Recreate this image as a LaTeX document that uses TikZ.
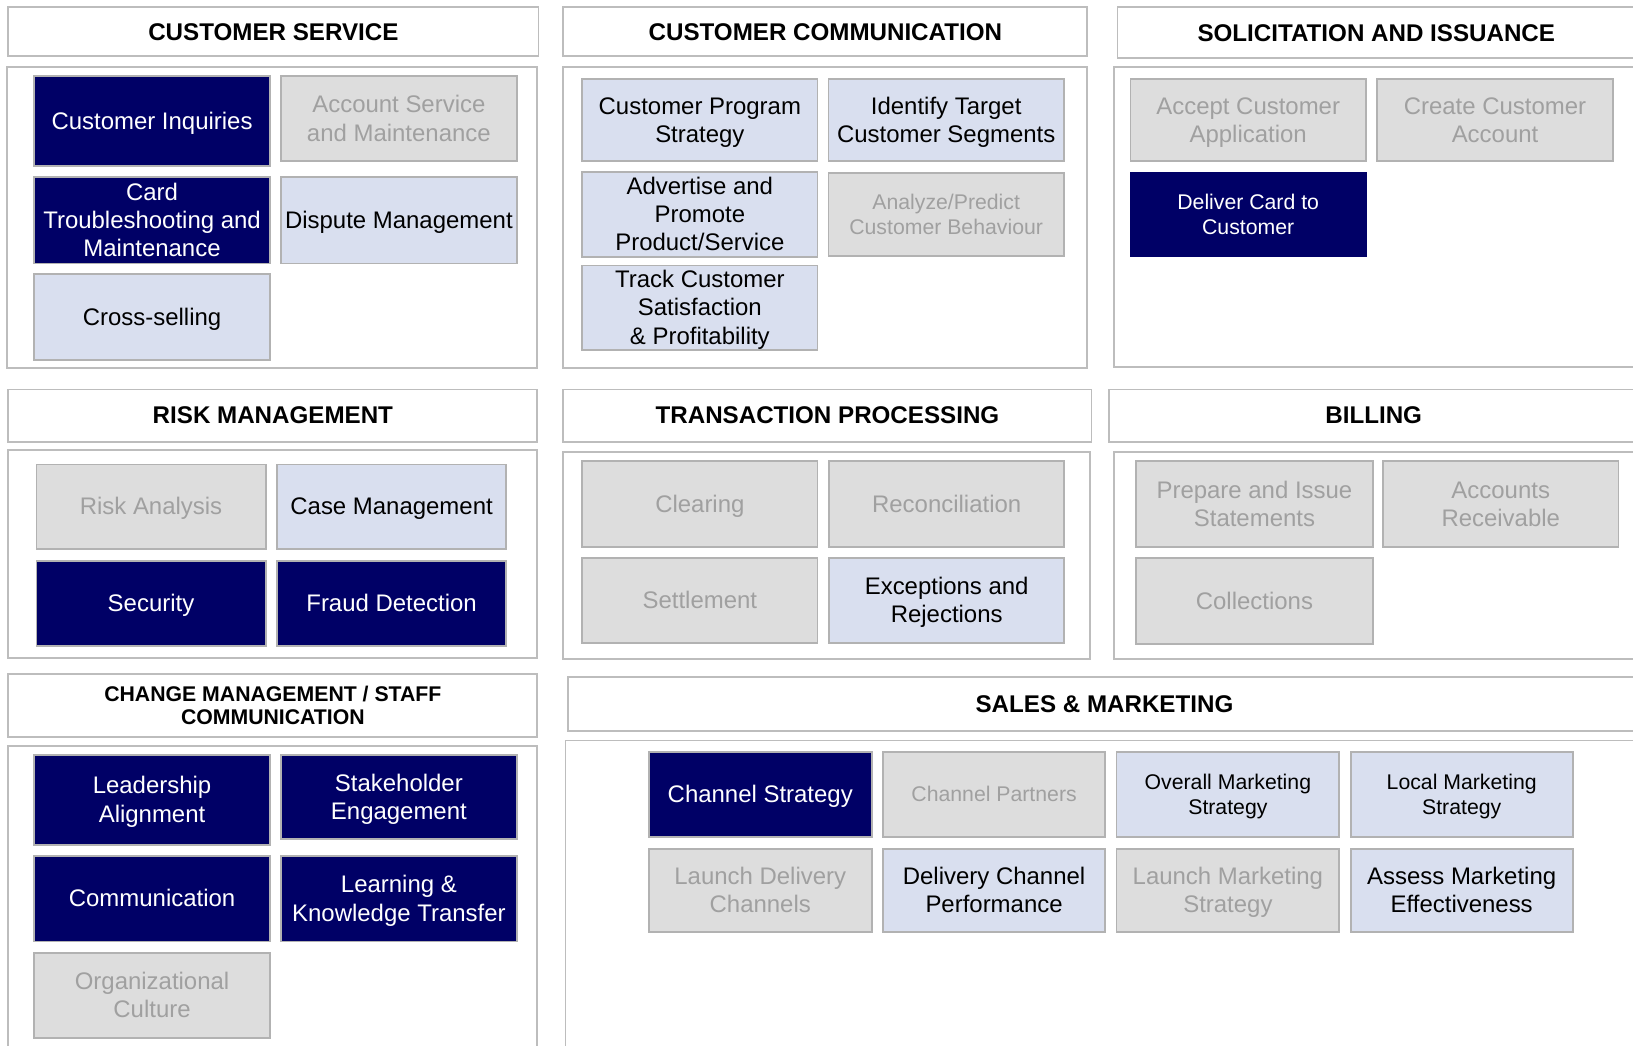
\documentclass[tikz,border=0pt]{standalone}
\usepackage{fontspec}
\usepackage{array}
\setmainfont{Liberation Sans}
\definecolor{navy}{HTML}{000066}
\definecolor{paleblue}{HTML}{D9DFEF}
\definecolor{offgray}{HTML}{DDDDDD}
\definecolor{offtext}{HTML}{A0A0A0}
\definecolor{cellgray}{HTML}{B2B2B2}
\definecolor{framegray}{HTML}{BDBDBD}
% every text line gets the same strut, so line pitch and centring stay even
\newcommand{\topstrut}{\rule{0pt}{0.93em}}
\newcommand{\botstrut}{\rule[-0.245em]{0pt}{0.245em}}
\newcolumntype{C}{@{}>{\topstrut}c<{\botstrut}@{}}
\newcommand{\lines}[1]{{\renewcommand{\arraystretch}{0}\begin{tabular}{C}#1\end{tabular}}}
\tikzset{
  frame/.style={draw=framegray, line width=1.8pt, fill=white},
  heading/.style={frame, inner sep=0pt,
    font=\bfseries\fontsize{23.2}{27}\selectfont},
  cell/.style={draw=cellgray, line width=1.8pt, inner sep=0pt,
    minimum width=226pt, minimum height=82pt},
  dark/.style={cell, fill=navy, text=white},
  light/.style={cell, fill=paleblue, text=black},
  off/.style={cell, fill=offgray, text=offtext},
  small/.style={font=\fontsize{20.4}{24.5}\selectfont},
}

\begin{document}
\begin{tikzpicture}[x=1pt, y=-1pt, font=\fontsize{23}{27}\selectfont]
    \clip (0,0) rectangle (1568,1004);
    \fill[white] (0,0) rectangle (1568,1004);
    % Customer service
    \node[heading, minimum width=509pt, minimum height=47pt] (cst) at (262.5,30.5) {\lines{CUSTOMER SERVICE}};
    \draw[frame] (7,64) rectangle (516,353);
    \node[dark, minimum height=86pt] (ci) at (146,116)   {\lines{Customer Inquiries}};
    \node[off]                       (as) at (383,114)   {\lines{Account Service\\and Maintenance}};
    \node[dark, minimum height=83pt] (ct) at (146,211.5) {\lines{Card\\Troubleshooting and\\Maintenance}};
    \node[light, minimum height=83pt](dm) at (383,211.5) {\lines{Dispute Management}};
    \node[light, minimum height=83pt](xs) at (146,304.5) {\lines{Cross-selling}};
    % Customer communication
    \node[heading, minimum width=503pt, minimum height=47pt] (cct) at (792.5,30.5) {\lines{CUSTOMER COMMUNICATION}};
    \draw[frame] (541,64) rectangle (1044,353);
    \node[light, minimum height=79pt] (cps) at (672,115.5)   {\lines{Customer Program\\Strategy}};
    \node[light, minimum height=79pt] (its) at (908.5,115.5) {\lines{Identify Target\\Customer Segments}};
    \node[light, minimum height=80pt] (adv) at (672,206)     {\lines{Advertise and\\Promote\\Product/Service}};
    \node[off, small, minimum height=80pt] (apb) at (908.5,206) {\lines{Analyze/Predict\\Customer Behaviour}};
    \node[light, minimum height=79pt] (tcs) at (672,295.5)   {\lines{Track Customer\\Satisfaction\\\& Profitability}};
    % Solicitation and issuance
    \node[heading, minimum width=497pt, minimum height=49pt] (sit) at (1321.5,31.5) {\lines{SOLICITATION AND ISSUANCE}};
    \draw[frame] (1070,64) rectangle (1580,352);
    \node[off, minimum height=79pt]  (aca) at (1198.5,115.5) {\lines{Accept Customer\\Application}};
    \node[off, minimum height=79pt]  (cca) at (1435.5,115.5) {\lines{Create Customer\\Account}};
    \node[dark, small, draw=navy, minimum height=80pt] (dcc) at (1198.5,206) {\lines{Deliver Card to\\Customer}};
    % Risk management
    \node[heading, minimum width=508pt, minimum height=50pt] (rmt) at (262,399) {\lines{RISK MANAGEMENT}};
    \draw[frame] (8,432) rectangle (516,632);
    \node[off, minimum width=220pt, minimum height=81pt]   (ra)  at (145,486.5) {\lines{Risk Analysis}};
    \node[light, minimum width=220pt, minimum height=81pt] (cm)  at (376,486.5) {\lines{Case Management}};
    \node[dark, minimum width=220pt, minimum height=81pt]  (sec) at (145,579.5) {\lines{Security}};
    \node[dark, minimum width=220pt, minimum height=81pt]  (fd)  at (376,579.5) {\lines{Fraud Detection}};
    % Transaction processing
    \node[heading, minimum width=507pt, minimum height=50pt] (tpt) at (794.5,399) {\lines{TRANSACTION PROCESSING}};
    \draw[frame] (541,434) rectangle (1047,633);
    \node[off]                         (clr) at (672,484)   {\lines{Clearing}};
    \node[off]                         (rec) at (909,484)   {\lines{Reconciliation}};
    \node[off, minimum height=81pt]    (stl) at (672,576.5) {\lines{Settlement}};
    \node[light, minimum height=81pt]  (exr) at (909,576.5) {\lines{Exceptions and\\Rejections}};
    % Billing
    \node[heading, minimum width=508pt, minimum height=50pt] (bit) at (1319,399) {\lines{BILLING}};
    \draw[frame] (1070,434) rectangle (1580,633);
    \node[off, minimum width=227pt] (pis) at (1204.5,484) {\lines{Prepare and Issue\\Statements}};
    \node[off]                      (acr) at (1441,484)   {\lines{Accounts\\Receivable}};
    \node[off, minimum width=227pt] (col) at (1204.5,577) {\lines{Collections}};
    % Change management / staff communication
    \node[heading, minimum width=508pt, minimum height=60pt,
      font=\bfseries\fontsize{20.4}{22}\selectfont] (cmt) at (262,677.5) {\lines{CHANGE MANAGEMENT / STAFF\\[-2pt]COMMUNICATION}};
    \draw[frame] (8,716) rectangle (516,1012);
    \node[dark, minimum height=86pt] (la)  at (146,768)   {\lines{Leadership\\Alignment}};
    \node[dark, minimum height=81pt] (se)  at (383,765.5) {\lines{Stakeholder\\Engagement}};
    \node[dark]                      (com) at (146,863)   {\lines{Communication}};
    \node[dark]                      (lkt) at (383,863)   {\lines{Learning \&\\Knowledge Transfer}};
    \node[off]                       (oc)  at (146,956)   {\lines{Organizational\\Culture}};
    % Sales & marketing
    \node[heading, minimum width=1031pt, minimum height=52pt] (smt) at (1060.5,676) {\lines{SALES \& MARKETING}};
    \draw[frame] (543,711) rectangle (1580,1012);
    \node[dark, minimum width=214pt]         (chs) at (730,763)    {\lines{Channel Strategy}};
    \node[off, small, minimum width=213pt]   (chp) at (954.5,763)  {\lines{Channel Partners}};
    \node[light, small, minimum width=214pt] (oms) at (1179,763)   {\lines{Overall Marketing\\Strategy}};
    \node[light, small, minimum width=213pt] (lms) at (1403.5,763) {\lines{Local Marketing\\Strategy}};
    \node[off, minimum width=214pt, minimum height=80pt]   (ldc) at (730,855)    {\lines{Launch Delivery\\Channels}};
    \node[light, minimum width=213pt, minimum height=80pt] (dcp) at (954.5,855)  {\lines{Delivery Channel\\Performance}};
    \node[off, minimum width=214pt, minimum height=80pt]   (lmk) at (1179,855)   {\lines{Launch Marketing\\Strategy}};
    \node[light, minimum width=213pt, minimum height=80pt] (ame) at (1403.5,855) {\lines{Assess Marketing\\Effectiveness}};
  \end{tikzpicture}
\end{document}
